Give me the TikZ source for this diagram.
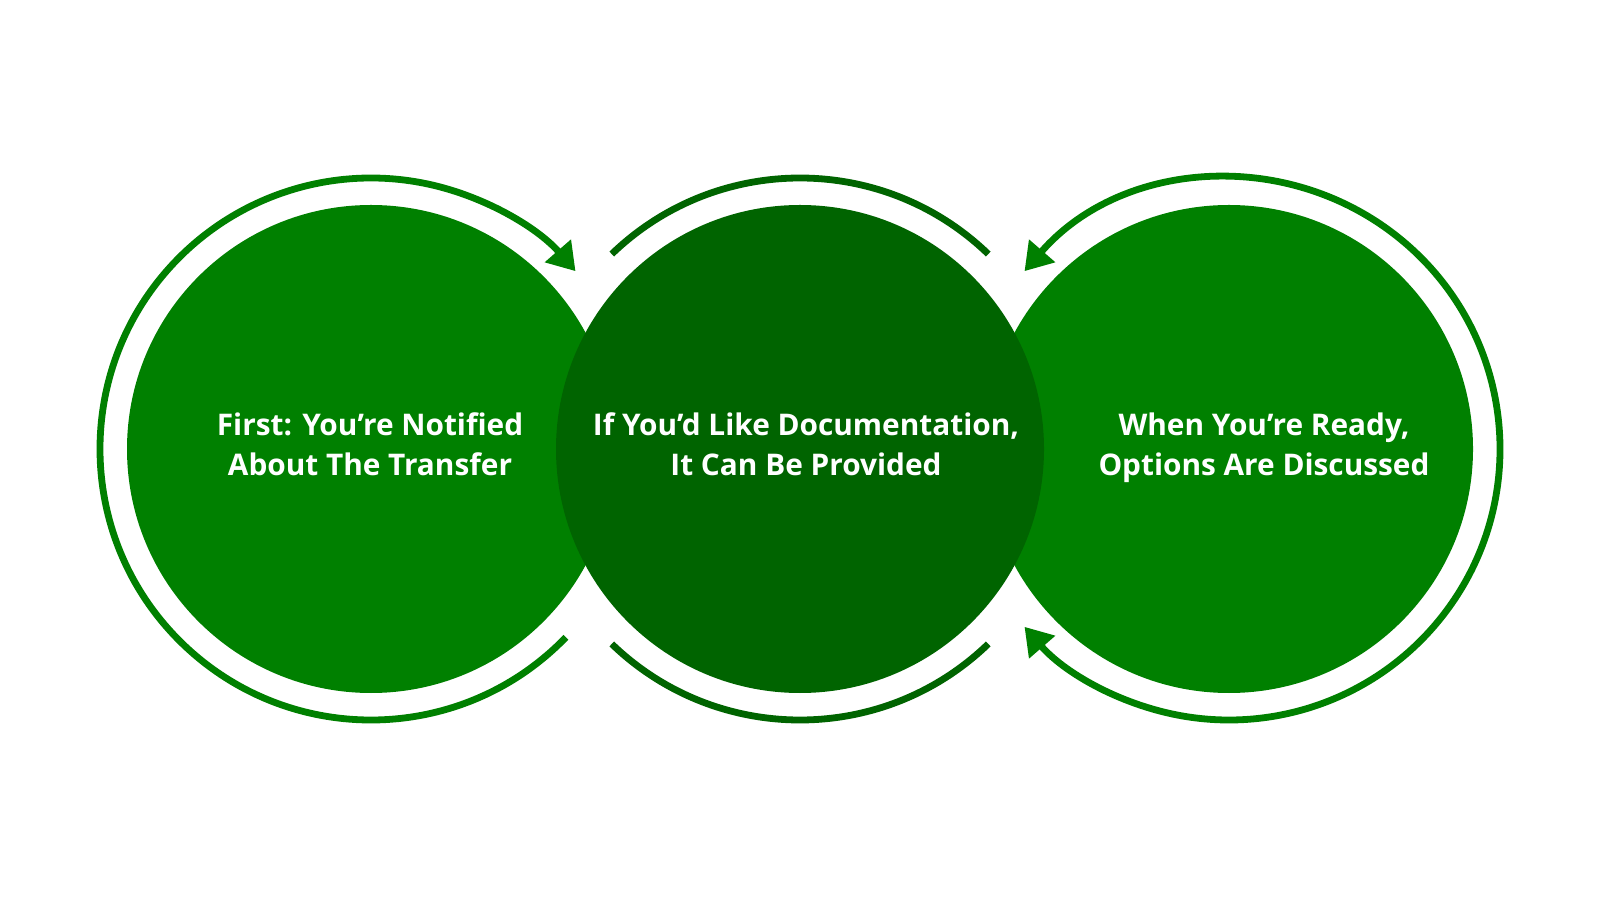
\documentclass[tikz,border=0pt]{standalone}
\usepackage{fontspec}
\setmainfont{Open Sans}
\usetikzlibrary{arrows.meta}
\definecolor{brightgreen}{HTML}{008000}
\definecolor{deepgreen}{HTML}{006400}
\tikzset{
  disc/.style={circle, inner sep=0pt, minimum size=244pt, draw=none},
  ring/.style={line width=3.4pt},
  caption/.style={text=white, align=center, anchor=base,
    font=\bfseries\fontsize{14.9}{20}\selectfont}
}
\begin{document}
\begin{tikzpicture}[x=0.5pt,y=0.5pt]
\useasboundingbox (0,0) rectangle (1600,900);
\fill[white] (0,0) rectangle (1600,900);
% discs
\node[disc, fill=brightgreen] (c1) at (371,451) {};
\node[disc, fill=brightgreen] (c3) at (1229,451) {};
\node[disc, fill=deepgreen] (c2) at (800,451) {};
% rings
\draw[ring, brightgreen, -{Triangle[length=13.5pt,width=16.5pt]}]
  ([shift={(-44:271)}]c1.center) arc[start angle=-44, end angle=-319, radius=271];
\draw[ring, deepgreen]
  ([shift={(46:271)}]c2.center) arc[start angle=46, end angle=134, radius=271];
\draw[ring, deepgreen]
  ([shift={(-134:271)}]c2.center) arc[start angle=-134, end angle=-46, radius=271];
\draw[ring, brightgreen, {Triangle[length=13.5pt,width=16.5pt]}-{Triangle[length=13.5pt,width=16.5pt]}]
  ([shift={(139:271)}]c3.center) arc[start angle=139, end angle=-139, radius=271];
% captions
\node[caption] (t1) at (370,424) {First: You’re Notified\\About The Transfer};
\node[caption] (t2) at (806,424) {If You’d Like Documentation,\\It Can Be Provided};
\node[caption] (t3) at (1264,424) {When You’re Ready,\\Options Are Discussed};
\end{tikzpicture}
\end{document}
